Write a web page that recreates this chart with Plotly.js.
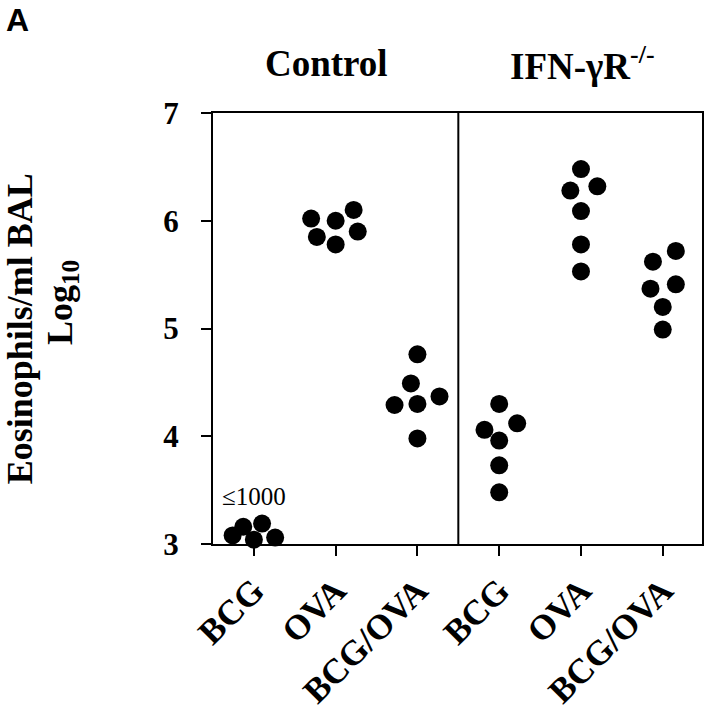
<!DOCTYPE html>
<html>
<head>
<meta charset="utf-8">
<script src="https://cdn.plot.ly/plotly-3.0.1.min.js"></script>
<style>
  html,body{margin:0;padding:0;background:#fff;}
  #plot{width:710px;height:720px;}
</style>
</head>
<body>
<div id="plot"></div>
<script>
/* groups along the x axis (Control: 0-2, IFN-gR-/-: 3-5) */
var groups = ['BCG', 'OVA', 'BCG/OVA', 'BCG', 'OVA', 'BCG/OVA'];

/* log10 eosinophils / ml BAL, one array per group */
var ctlBCG    = [3.08, 3.16, 3.04, 3.19, 3.06];
var ctlOVA    = [6.02, 6.00, 6.10, 5.85, 5.78, 5.90];
var ctlBCGOVA = [4.76, 4.49, 4.29, 4.30, 4.37, 3.98];
var koBCG     = [4.30, 4.06, 4.12, 3.96, 3.73, 3.48];
var koOVA     = [6.48, 6.28, 6.32, 6.09, 5.78, 5.53];
var koBCGOVA  = [5.62, 5.72, 5.37, 5.41, 5.20, 4.99];

/* horizontal spread of the dots inside each group (category units) */
var ctlBCGdx    = [-0.26, -0.13, 0, 0.10, 0.26];
var ctlOVAdx    = [-0.30, 0, 0.22, -0.23, 0, 0.27];
var ctlBCGOVAdx = [0, -0.08, -0.28, 0, 0.27, 0];
var koBCGdx     = [0, -0.18, 0.22, 0, 0, 0];
var koOVAdx     = [0, -0.13, 0.20, 0, 0, 0];
var koBCGOVAdx  = [-0.12, 0.16, -0.15, 0.16, 0, 0];

var yTicks = [3, 4, 5, 6, 7];

var series = [ctlBCG, ctlOVA, ctlBCGOVA, koBCG, koOVA, koBCGOVA];
var spread = [ctlBCGdx, ctlOVAdx, ctlBCGOVAdx, koBCGdx, koOVAdx, koBCGOVAdx];

var serif = 'Liberation Serif, Times New Roman, serif';

var data = [];
for (var g = 0; g < series.length; g++) {
    var xs = [];
    for (var k = 0; k < series[g].length; k++) xs.push(g + spread[g][k]);
    data.push({
        x: xs,
        y: series[g],
        type: 'scatter',
        mode: 'markers',
        name: groups[g],
        cliponaxis: false,
        marker: {color: '#000', size: 18, line: {width: 0}},
        hoverinfo: 'y'
    });
}

var layout = {
    width: 710,
    height: 720,
    showlegend: false,
    paper_bgcolor: '#fff',
    plot_bgcolor: '#fff',
    margin: {l: 213, r: 8, t: 113, b: 176, pad: 0},
    xaxis: {
        range: [-0.5, 5.48],
        tickvals: [0, 1, 2, 3, 4, 5],
        ticktext: groups,
        tickangle: -45,
        ticks: 'outside',
        ticklen: 10,
        tickwidth: 2,
        tickcolor: '#000',
        showline: true,
        linewidth: 2,
        linecolor: '#000',
        mirror: true,
        showgrid: false,
        zeroline: false,
        tickfont: {family: serif, size: 35, color: '#000', weight: 700}
    },
    yaxis: {
        range: [3, 7],
        tickvals: yTicks,
        ticks: 'outside',
        ticklen: 10,
        tickwidth: 2,
        tickcolor: '#000',
        showline: true,
        linewidth: 2,
        linecolor: '#000',
        mirror: true,
        showgrid: false,
        zeroline: false,
        ticklabelstandoff: 16,
        tickfont: {family: serif, size: 31, color: '#000', weight: 700}
    },
    shapes: [{
        type: 'line', xref: 'x', yref: 'y',
        x0: 2.5, x1: 2.5, y0: 3, y1: 7,
        line: {color: '#000', width: 2}
    }],
    annotations: [
        {text: 'A', xref: 'paper', yref: 'paper', x: -0.4, y: 1.262,
         xanchor: 'center', yanchor: 'top', showarrow: false,
         font: {family: 'Liberation Sans, Arial, sans-serif', size: 32, color: '#000', weight: 700}},
        {text: 'Control', xref: 'paper', yref: 'paper', x: 0.233, y: 1.114,
         xanchor: 'center', yanchor: 'middle', showarrow: false,
         font: {family: serif, size: 37, color: '#000', weight: 700}},
        {text: 'IFN-γR<sup>-/-</sup>', xref: 'paper', yref: 'paper', x: 0.755, y: 1.114,
         xanchor: 'center', yanchor: 'middle', showarrow: false,
         font: {family: serif, size: 37, color: '#000', weight: 700}},
        {text: 'Eosinophils/ml BAL', xref: 'paper', yref: 'paper', x: -0.395, y: 0.5,
         xanchor: 'center', yanchor: 'middle', textangle: -90, showarrow: false,
         font: {family: serif, size: 36, color: '#000', weight: 700}},
        {text: 'Log<sub>10</sub>', xref: 'paper', yref: 'paper', x: -0.308, y: 0.56,
         xanchor: 'center', yanchor: 'middle', textangle: -90, showarrow: false,
         font: {family: serif, size: 36, color: '#000', weight: 700}},
        {text: '≤1000', xref: 'x', yref: 'y', x: 0, y: 3.44,
         xanchor: 'center', yanchor: 'middle', showarrow: false,
         font: {family: serif, size: 25, color: '#000'}}
    ]
};

Plotly.newPlot('plot', data, layout, {displayModeBar: false, staticPlot: true});
</script>
</body>
</html>
